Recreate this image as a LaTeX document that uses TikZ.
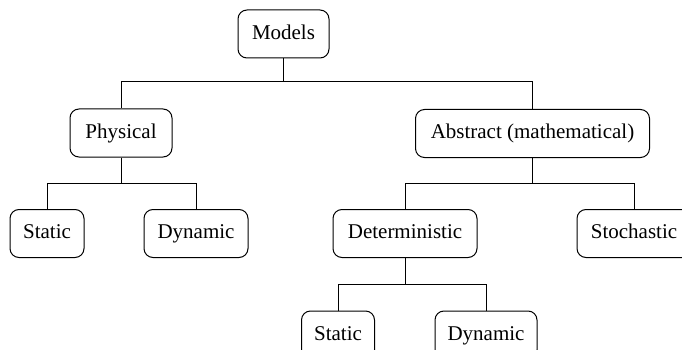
\documentclass[tikz,border=0pt]{standalone}
\usepackage{fontspec}
\setmainfont{Liberation Serif}
\begin{document}
\begin{tikzpicture}[x=1pt,y=-1pt,
  box/.style={draw,line width=1pt,rounded corners=9pt,minimum height=48pt,inner sep=0pt,text height=15pt,text depth=4.5pt,font=\fontsize{21}{24}\selectfont},
  link/.style={draw,line width=1pt}]
\useasboundingbox (0,0) rectangle (682,350);
\clip (0,0) rectangle (682,350);
\node[box,minimum width=91pt] (models) at (283.5,34) {Models};
\node[box,minimum width=102pt] (phys) at (121,133) {Physical};
\node[box,minimum width=234pt] (abs) at (532.5,133.5) {Abstract (mathematical)};
\node[box,minimum width=74pt] (st1) at (47,233.5) {Static};
\node[box,minimum width=104pt] (dy1) at (196,233.5) {Dynamic};
\node[box,minimum width=144pt] (det) at (405,233.5) {Deterministic};
\node[box,minimum width=114pt] (sto) at (634,233.5) {Stochastic};
\node[box,minimum width=73pt] (st2) at (338,335) {Static};
\node[box,minimum width=102pt] (dy2) at (486,335) {Dynamic};
\path[link] (models.south) -- ++(0,23.5) -| (phys.north);
\path[link] (models.south) -- ++(0,23.5) -| (abs.north);
\path[link] (phys.south) -- ++(0,25.5) -| (st1.north);
\path[link] (phys.south) -- ++(0,25.5) -| (dy1.north);
\path[link] (abs.south) -- ++(0,25.5) -| (det.north);
\path[link] (abs.south) -- ++(0,25.5) -| (sto.north);
\path[link] (det.south) -- ++(0,26) -| (st2.north);
\path[link] (det.south) -- ++(0,26) -| (dy2.north);
\end{tikzpicture}
\end{document}
